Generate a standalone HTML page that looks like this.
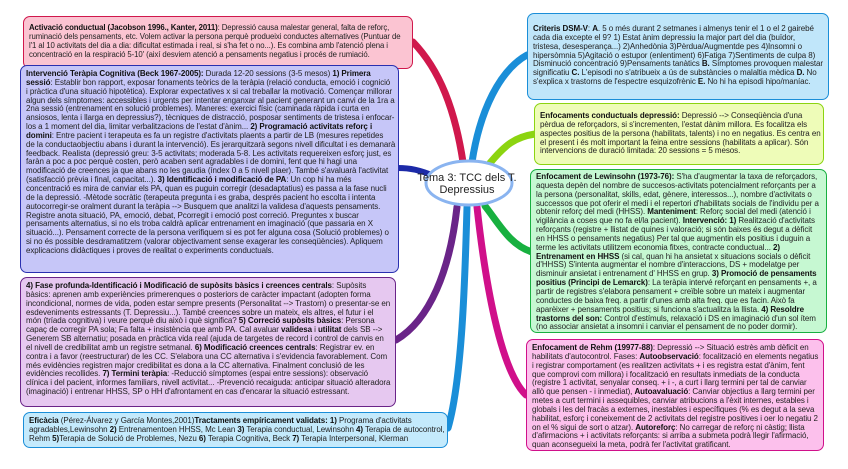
<!DOCTYPE html>
<html><head><meta charset="utf-8"><style>
body{margin:0;width:848px;height:469px;background:#fff;position:relative;overflow:hidden;font-family:"Liberation Sans",Arial,sans-serif;}
.b{position:absolute;box-sizing:border-box;border:1.5px solid;border-radius:7px;font-size:8px;line-height:8.85px;color:#222;padding:4px 5px;white-space:nowrap;letter-spacing:-0.08px;overflow:hidden}
b{font-weight:bold;color:#111}
svg{position:absolute;left:0;top:0}
</style></head><body>
<svg width="848" height="469">
<g fill="none" stroke-linecap="round">
<path d="M463,162 C455,110 440,70 413,42" stroke="#d0184c" stroke-width="7"/>
<path d="M434,176 C420,170 410,168 398,168" stroke="#1c2aa8" stroke-width="6"/>
<path d="M472,162 C480,110 500,70 527,55" stroke="#1a8ed8" stroke-width="7"/>
<path d="M490,163 C505,145 515,137 535,134" stroke="#8cd410" stroke-width="7"/>
<path d="M485,206 C500,225 510,245 532,252" stroke="#18b040" stroke-width="7"/>
<path d="M477,207 C485,280 500,370 526,395" stroke="#d0108a" stroke-width="7"/>
<path d="M467,207 C465,280 462,380 448,428" stroke="#1a8ed8" stroke-width="7"/>
<path d="M457,207 C450,270 430,320 396,340" stroke="#6a2488" stroke-width="7"/>
</g>
<ellipse cx="469" cy="183" rx="43" ry="22" fill="#fff" stroke="#8ab4f0" stroke-width="3"/>
<text x="467" y="181" font-family="Liberation Sans, sans-serif" font-size="11" text-anchor="middle" fill="#222">Tema 3: TCC dels T.</text>
<text x="467" y="193" font-family="Liberation Sans, sans-serif" font-size="11" text-anchor="middle" fill="#222">Depressius</text>
</svg>

<div class="b" style="left:23px;top:16px;width:390px;height:53px;background:#fbc4d2;border-color:#d0184c;padding-top:7px;font-size:7.8px;letter-spacing:-0.1px">
<b>Activació conductual (Jacobson 1996., Kanter, 2011)</b>: Depressió causa malestar general, falta de reforç,<br>ruminació dels pensaments, etc. Volem activar la persona perquè produeixi conductes alternatives (Puntuar de<br>l'1 al 10 activitats del dia a dia: dificultat estimada i real, si s'ha fet o no...). Es combina amb l'atenció plena i<br>concentració en la respiració 5-10' (així desviem atenció a pensaments negatius i procés de rumiació.
</div>

<div class="b" style="left:20px;top:65px;width:379px;height:208px;background:#c6c6f8;border-color:#2a30b0">
<b>Intervenció Teràpia Cognitiva (Beck 1967-2005):</b> Durada 12-20 sessions (3-5 mesos) <b>1) Primera</b><br><b>sessió</b>: Establir bon rapport, exposar fonaments teòrics de la teràpia (relació conducta, emoció i cognició<br>i pràctica d'una situació hipotètica). Explorar expectatives x si cal treballar la motivació. Començar millorar<br>algun dels símptomes: accessibles i urgents per intentar enganxar al pacient generant un canvi de la 1ra a<br>2na sessió (entrenament en solució problemes). Maneres: exercici físic (caminada ràpida i curta en<br>ansiosos, lenta i llarga en depressius?), tècniques de distracció, posposar sentiments de tristesa i enfocar-<br>los a 1 moment del dia, limitar verbalitzacions de l'estat d'ànim... <b>2) Programació activitats reforç i</b><br><b>domini</b>: Entre pacient i terapeuta es fa un registre d'activitats plaents a partir de LB (mesures repetides<br>de la conductaobjectiu abans i durant la intervenció). Es jerarquitzarà segons nivell dificultat i es demanarà<br>feedback. Realista (depressió greu: 3-5 activitats; moderada 5-8. Les activitats requereixen esforç just, es<br>faràn a poc a poc perquè costen, però acaben sent agradables i de domini, fent que hi hagi una<br>modificació de creences ja que abans no les gaudia (índex 0 a 5 nivell plaer). També s'avaluarà l'activitat<br>(satisfacció prèvia i final, capacitat...). <b>3) Identificació i modificació de PA</b>: Un cop hi ha més<br>concentració es mira de canviar els PA, quan es puguin corregir (desadaptatius) es passa a la fase nucli<br>de la depressió. -Mètode socràtic (terapeuta pregunta i es graba, després pacient ho escolta i intenta<br>autocorregir-se oralment durant la teràpia --&gt; Busquem que analitzi la validesa d'aquests pensaments.<br>Registre anota situació, PA, emoció, debat, Pcorregit i emoció post correció. Preguntes x buscar<br>pensaments alternatius, si no els troba caldrà aplicar entrenament en imaginació (que passaria en X<br>situació...). Pensament correcte de la persona verifiquem si es pot fer alguna cosa (Solució problemes) o<br>si no és possible desdramatitzem (valorar objectivament sense exagerar les conseqüències). Apliquem<br>explicacions didàctiques i proves de realitat o experiments conductuals.
</div>

<div class="b" style="left:20px;top:277px;width:376px;height:130px;background:#e6c8f0;border-color:#6a2488">
<b>4) Fase profunda-Identificació i Modificació de supòsits bàsics i creences centrals</b>: Supòsits<br>bàsics: aprenen amb experiències primerenques o posteriors de caràcter impactant (adopten forma<br>incondicional, normes de vida, poden estar sempre presents (Personalitat --&gt; Trastorn) o presentar-se en<br>esdeveniments estressants (T. Depressiu...). També creences sobre un mateix, els altres, el futur i el<br>món (tríada cognitiva) i veure perquè diu això i què significa? <b>5) Correció supòsits bàsics</b>: Persona<br>capaç de corregir PA sola; Fa falta + insistència que amb PA. Cal avaluar <b>validesa</b> i <b>utilitat</b> dels SB --&gt;<br>Generem SB alternatiu; posada en pràctica vida real (ajuda de targetes de record i control de canvis en<br>el nivell de credibilitat amb un registre setmanal. <b>6) Modificació creences centrals</b>: Registrar ev. en<br>contra i a favor (reestructurar) de les CC. S'elabora una CC alternativa i s'evidencia favorablement. Com<br>més evidències registren major credibilitat es dona a la CC alternativa. Finalment conclusió de les<br>evidències recollides. <b>7) Termini teràpia</b>: -Reducció símptomes (espai entre sessions): observació<br>clínica i del pacient, informes familiars, nivell activitat... -Prevenció recaiguda: anticipar situació alteradora<br>(imaginació) i entrenar HHSS, SP o HH d'afrontament en cas d'encarar la situació estressant.
</div>

<div class="b" style="left:23px;top:412px;width:425px;height:36px;background:#c4eafc;border-color:#1a8ed8">
<b>Eficàcia</b> (Pérez-Álvarez y García Montes,2001)<b>Tractaments empíricament validats: 1)</b> Programa d'activitats<br>agradables,Lewinsohn <b>2)</b> Entrenamentoen HHSS, Mc Lean <b>3)</b> Terapia conductual, Lewinsohn <b>4)</b> Terapia de autocontrol,<br>Rehm <b>5)</b>Terapia de Solució de Problemes, Nezu <b>6)</b> Terapia Cognitiva, Beck <b>7)</b> Terapia Interpersonal, Klerman
</div>

<div class="b" style="left:527px;top:13px;width:302px;height:87px;background:#c0e6fa;border-color:#1a8ed8;padding-top:11px">
<b>Criteris DSM-V</b>: <b>A</b>. 5 o més durant 2 setmanes i almenys tenir el 1 o el 2 gairebé<br>cada dia excepte el 9? 1) Estat ànim depressiu la major part del dia (buïdor,<br>tristesa, desesperança...) 2)Anhedònia 3)Pèrdua/Augmentde pes 4)Insomni o<br>hipersòmnia 5)Agitació o estupor (enlentiment) 6)Fatiga 7)Sentiments de culpa 8)<br>Disminució concentració 9)Pensaments tanàtics <b>B.</b> Símptomes provoquen malestar<br>significatiu <b>C.</b> L'episodi no s'atribueix a ús de substàncies o malaltia mèdica <b>D.</b> No<br>s'explica x trastorns de l'espectre esquizofrènic <b>E.</b> No hi ha episodi hipo/maníac.
</div>

<div class="b" style="left:534px;top:103px;width:290px;height:62px;background:#eefcb8;border-color:#8cd410;padding-top:8px">
<b>Enfocaments conductuals depressió:</b> Depressió --&gt; Conseqüència d'una<br>pèrdua de reforçadors, si s'incrementen, l'estat dànim millora. Es focalitza els<br>aspectes positius de la persona (habilitats, talents) i no en negatius. Es centra en<br>el present i és molt important la feina entre sessions (habilitats a aplicar). Són<br>intervencions de duració limitada: 20 sessions = 5 mesos.
</div>

<div class="b" style="left:530px;top:169px;width:297px;height:164px;background:#c6f8d2;border-color:#18b040;padding-top:3px">
<b>Enfocament de Lewinsohn (1973-76):</b> S'ha d'augmentar la taxa de reforçadors,<br>aquesta depèn del nombre de succesos-activitats potencialment reforçants per a<br>la persona (personalitat, skills, edat, gènere, interessos...), nombre d'activitats o<br>successos que pot oferir el medi i el repertori d'habilitats socials de l'individu per a<br>obtenir reforç del medi (HHSS). <b>Manteniment</b>: Reforç social del medi (atenció i<br>vigilància a coses que no fa el/la pacient). <b>Intervenció: 1)</b> Realització d'activitats<br>reforçants (registre + llistat de quines i valoració; si són baixes és degut a dèficit<br>en HHSS o pensaments negatius) Per tal que augmentin els positius i duguin a<br>terme les activitats utilitzem economia fitxes, contracte conductual... <b>2)</b><br><b>Entrenament en HHSS</b> (si cal, quan hi ha ansietat x situacions socials o dèficit<br>d'HHSS) S'intenta augmentar el nombre d'interaccions, DS + modelatge per<br>disminuir ansietat i entrenament d' HHSS en grup. <b>3) Promoció de pensaments</b><br><b>positius (Principi de Lemarck)</b>: La teràpia intervé reforçant en pensaments +, a<br>partir de registres s'elabora pensament + creïble sobre un mateix i augmentar<br>conductes de baixa freq. a partir d'unes amb alta freq. que es facin. Això fa<br>aparèixer + pensaments positius; si funciona s'actualitza la llista. <b>4) Resoldre</b><br><b>trastorns del son:</b> Control d'estímuls, relaxació i DS en imaginació d'un sol ítem<br>(no associar ansietat a insomni i canviar el pensament de no poder dormir).
</div>

<div class="b" style="left:526px;top:339px;width:298px;height:112px;background:#fcc0ec;border-color:#d0108a;padding-top:4px">
<b>Enfocament de Rehm (19977-88)</b>: Depressió --&gt; Situació estrès amb dèficit en<br>habilitats d'autocontrol. Fases: <b>Autoobservació</b>: focalització en elements negatius<br>i registrar comportament (es realitzen activitats + i es registra estat d'ànim, fent<br>que comprovi com millora) i focalització en resultats inmediats de la conducta<br>(registre 1 activitat, senyalar conseq. + i -, a curt i llarg termini per tal de canviar<br>allò que pensen - i inmediat), <b>Autoavaluació</b>: Canviar objectius a llarg termini per<br>metes a curt termini i assequibles, canviar atribucions a l'èxit internes, estables i<br>globals i les del fracàs a externes, inestables i específiques (% es degut a la seva<br>habilitat, esforç i coneixement de 2 activitats del registre positives i oer lo negatiu 2<br>on el % sigui de sort o atzar). <b>Autoreforç</b>: No carregar de reforç ni càstig; llista<br>d'afirmacions + i activitats reforçants: si arriba a submeta podrà llegir l'afirmació,<br>quan aconsegueixi la meta, podrà fer l'activitat gratificant.
</div>
</body></html>
